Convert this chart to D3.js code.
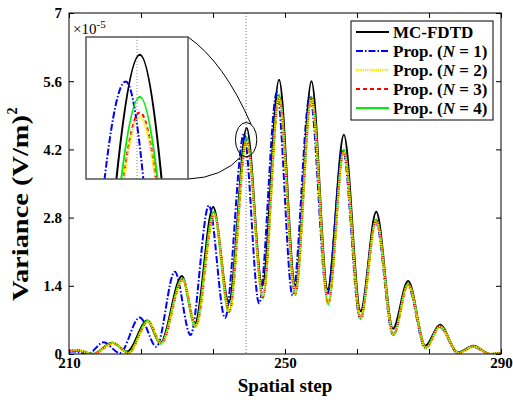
<!DOCTYPE html>
<html>
<head>
<meta charset="utf-8">
<script src="https://cdn.jsdelivr.net/npm/d3@7"></script>
<style>
  html, body { margin: 0; padding: 0; background: #fff; }
  svg { display: block; }
  text { font-family: "Liberation Serif", "Times New Roman", Times, "DejaVu Serif", serif !important; font-weight: bold; }
</style>
</head>
<body>
<svg id="chart" width="513" height="400"></svg>
<script>
// ---- data (local maxima / minima of each curve) ----
const xDomain = [210, 290];
const yDomain = [0, 7];
const xTicks = [210, 223.33, 236.67, 250, 263.33, 276.67, 290];
const xTickLabels = ["210", "", "", "250", "", "", "290"];
const yTicks = [0, 1.4, 2.8, 4.2, 5.6, 7];
const yTickLabels = ["0", "1.4", "2.8", "4.2", "5.6", "7"];
const markerX = 242.8;
const zoomX = [241.0, 244.6];
const zoomY = [4.08, 4.72];

const mcFdtd = [[210,0.05],[211.5,0.07],[214.4,0.0],[218.0,0.23],[220.8,0.05],[224.5,0.69],[226.9,0.22],
  [230.9,1.60],[233.3,0.62],[236.7,3.02],[239.6,1.06],[242.9,4.64],[245.8,1.40],[248.9,5.63],[251.9,1.40],
  [254.9,5.60],[257.9,1.33],[260.9,4.50],[264.0,0.88],[266.9,2.92],[270.0,0.52],[272.8,1.50],[276.0,0.17],
  [278.7,0.60],[282.0,0.03],[284.9,0.17],[288.0,0.0],[290,0.02]];
const propN1 = [[210,0.05],[211.0,0.05],[213.5,0.0],[216.4,0.24],[219.4,0.02],[223.1,0.75],[226.2,0.15],
  [229.6,1.69],[232.5,0.39],[235.9,3.05],[238.9,0.74],[242.4,4.52],[245.2,1.04],[248.5,5.37],[251.4,1.20],
  [254.6,5.30],[257.8,1.22],[260.7,4.20],[263.9,0.74],[266.8,2.72],[270.0,0.40],[272.7,1.41],[276.0,0.12],
  [278.6,0.56],[282.0,0.02],[284.8,0.15],[288.0,0.0],[290,0.02]];
const propN2 = [[210,0.06],[211.5,0.08],[214.5,0.0],[218.2,0.22],[221.0,0.02],[224.7,0.66],[227.1,0.22],
  [231.1,1.52],[233.5,0.57],[236.9,2.86],[239.7,0.87],[242.9,4.36],[245.9,1.18],[248.9,5.24],[251.9,1.24],
  [254.9,5.22],[258.0,1.05],[260.9,4.14],[264.0,0.74],[266.9,2.72],[270.1,0.40],[272.8,1.41],[276.1,0.12],
  [278.7,0.56],[282.1,0.02],[284.9,0.15],[288.0,0.0],[290,0.02]];
const propN3 = [[210,0.06],[211.5,0.08],[214.5,0.0],[218.2,0.22],[221.0,0.02],[224.7,0.67],[227.1,0.22],
  [231.1,1.53],[233.5,0.57],[236.9,2.88],[239.7,0.87],[242.9,4.38],[245.9,1.17],[248.9,5.27],[251.9,1.23],
  [254.9,5.24],[258.0,1.04],[260.9,4.16],[264.0,0.73],[266.9,2.74],[270.1,0.40],[272.8,1.42],[276.1,0.12],
  [278.7,0.56],[282.1,0.02],[284.9,0.15],[288.0,0.0],[290,0.02]];
const propN4 = [[210,0.06],[211.5,0.08],[214.5,0.0],[218.1,0.23],[221.0,0.02],[224.6,0.68],[227.0,0.21],
  [231.0,1.55],[233.4,0.56],[236.8,2.92],[239.6,0.86],[242.9,4.45],[245.9,1.15],[248.9,5.32],[251.9,1.21],
  [254.9,5.28],[258.0,1.02],[260.9,4.20],[264.0,0.72],[266.9,2.76],[270.1,0.39],[272.8,1.44],[276.1,0.12],
  [278.7,0.57],[282.1,0.02],[284.9,0.16],[288.0,0.0],[290,0.02]];
const legendN = [null, 1, 2, 3, 4];

// ---- styles ----
const series = [
  { data: mcFdtd, color: "#000000", width: 2,   dash: null },
  { data: propN1, color: "#0000ff", width: 2,   dash: "7,2,1.5,2" },
  { data: propN4, color: "#00ee00", width: 2,   dash: null },
  { data: propN3, color: "#ff0000", width: 2,   dash: "4,3" },
  { data: propN2, color: "#f2e600", width: 2.5, dash: "1.2,1" }
];
const legendOrder = [0, 1, 4, 3, 2];

const svg = d3.select("#chart");
const M = { l: 69, r: 501, t: 13, b: 354 };
const x = d3.scaleLinear().domain(xDomain).range([M.l, M.r]);
const y = d3.scaleLinear().domain(yDomain).range([M.b, M.t]);

const defs = svg.append("defs");
defs.append("clipPath").attr("id", "clipMain").append("rect")
  .attr("x", M.l).attr("y", M.t).attr("width", M.r - M.l).attr("height", M.b - M.t);

// dotted marker line
svg.append("line")
  .attr("x1", x(markerX)).attr("x2", x(markerX)).attr("y1", M.t).attr("y2", M.b)
  .attr("stroke", "#777").attr("stroke-width", 1).attr("stroke-dasharray", "1,2");

const line = d3.line().x(d => x(d[0])).y(d => y(d[1])).curve(d3.curveMonotoneX);
const gMain = svg.append("g").attr("clip-path", "url(#clipMain)");
series.forEach(s => {
  gMain.append("path").attr("d", line(s.data))
    .attr("fill", "none").attr("stroke", s.color).attr("stroke-width", s.width)
    .attr("stroke-dasharray", s.dash);
});

// ---- axes ----
const styleAxis = g => {
  g.attr("font-family", null).attr("font-size", null);
  g.select(".domain").remove();
  g.selectAll(".tick line").attr("stroke", "#000");
  g.selectAll("text").attr("fill", "#000").style("font-size", "15px");
};
svg.append("g").attr("transform", `translate(0,${M.b})`)
  .call(d3.axisBottom(x).tickValues(xTicks).tickSizeInner(-5).tickSizeOuter(0).tickPadding(3)
    .tickFormat((d, i) => xTickLabels[i]))
  .call(styleAxis);
svg.append("g").attr("transform", `translate(0,${M.t})`)
  .call(d3.axisTop(x).tickValues(xTicks).tickSizeInner(-5).tickSizeOuter(0).tickFormat(""))
  .call(styleAxis);
svg.append("g").attr("transform", `translate(${M.l},0)`)
  .call(d3.axisLeft(y).tickValues(yTicks).tickSizeInner(-5).tickSizeOuter(0).tickPadding(7)
    .tickFormat((d, i) => yTickLabels[i]))
  .call(styleAxis);
svg.append("g").attr("transform", `translate(${M.r},0)`)
  .call(d3.axisRight(y).tickValues(yTicks).tickSizeInner(-5).tickSizeOuter(0).tickFormat(""))
  .call(styleAxis);
svg.append("rect").attr("x", M.l).attr("y", M.t).attr("width", M.r - M.l).attr("height", M.b - M.t)
  .attr("fill", "none").attr("stroke", "#000").attr("stroke-width", 1);

// axis titles
svg.append("text").attr("x", (M.l + M.r) / 2).attr("y", 392).attr("text-anchor", "middle")
  .style("font-size", "19px").text("Spatial step");
svg.append("text").attr("transform", "translate(28,208) rotate(-90)")
  .attr("text-anchor", "middle").style("font-size", "23px")
  .attr("textLength", 186).attr("lengthAdjust", "spacingAndGlyphs")
  .text("Variance (V/m)");
svg.append("text").attr("transform", "translate(17,111) rotate(-90)")
  .attr("text-anchor", "middle").style("font-size", "14px").text("2");

// exponent label
const ex = svg.append("text").attr("x", 73).attr("y", 34).style("font-size", "15px").style("font-weight", "normal");
ex.append("tspan").text("×10");
ex.append("tspan").attr("dy", -6).style("font-size", "11px").text("-5");

// ---- zoom ellipse + inset ----
const ecx = x((zoomX[0] + zoomX[1]) / 2), ecy = y((zoomY[0] + zoomY[1]) / 2);
const erx = (x(zoomX[1]) - x(zoomX[0])) / 2 * 1.1, ery = (y(zoomY[0]) - y(zoomY[1])) / 2 * 1.1;
svg.append("ellipse").attr("cx", ecx).attr("cy", ecy).attr("rx", erx).attr("ry", ery)
  .attr("fill", "none").attr("stroke", "#000").attr("stroke-width", 1);

const I = { l: 86, r: 188, t: 37, b: 179 };
const pt = a => [ecx + erx * Math.cos(a), ecy + ery * Math.sin(a)];
const pTop = pt(-62 * Math.PI / 180), pBot = pt(112 * Math.PI / 180);
const path1 = d3.path();
path1.moveTo(I.r, I.t); path1.quadraticCurveTo(224, 62, pTop[0], pTop[1]);
const path2 = d3.path();
path2.moveTo(I.r, I.b); path2.quadraticCurveTo(222, 178, pBot[0], pBot[1]);
[path1, path2].forEach(p => svg.append("path").attr("d", p.toString())
  .attr("fill", "none").attr("stroke", "#000").attr("stroke-width", 1));

const xi = d3.scaleLinear().domain(zoomX).range([I.l, I.r]);
const yi = d3.scaleLinear().domain(zoomY).range([I.b, I.t]);
defs.append("clipPath").attr("id", "clipInset").append("rect")
  .attr("x", I.l).attr("y", I.t).attr("width", I.r - I.l).attr("height", I.b - I.t);
svg.append("rect").attr("x", I.l).attr("y", I.t).attr("width", I.r - I.l).attr("height", I.b - I.t)
  .attr("fill", "#fff");
svg.append("line").attr("x1", xi(markerX)).attr("x2", xi(markerX)).attr("y1", I.t).attr("y2", I.b)
  .attr("stroke", "#888").attr("stroke-width", 1).attr("stroke-dasharray", "1,2");
const lineI = d3.line().x(d => xi(d[0])).y(d => yi(d[1])).curve(d3.curveMonotoneX);
const gInset = svg.append("g").attr("clip-path", "url(#clipInset)");
series.forEach(s => {
  gInset.append("path").attr("d", lineI(s.data))
    .attr("fill", "none").attr("stroke", s.color).attr("stroke-width", s.width)
    .attr("stroke-dasharray", s.dash);
});
svg.append("rect").attr("x", I.l).attr("y", I.t).attr("width", I.r - I.l).attr("height", I.b - I.t)
  .attr("fill", "none").attr("stroke", "#555").attr("stroke-width", 1.5);

// ---- legend ----
const L = { x: 351, y: 21, w: 142, h: 99, row: 19 };
const lg = svg.append("g");
lg.append("rect").attr("x", L.x).attr("y", L.y).attr("width", L.w).attr("height", L.h)
  .attr("fill", "#fff").attr("stroke", "#000").attr("stroke-width", 1);
legendOrder.forEach((si, i) => {
  const s = series[si];
  const cy = L.y + 11 + i * L.row;
  lg.append("line").attr("x1", L.x + 5).attr("x2", L.x + 38).attr("y1", cy).attr("y2", cy)
    .attr("stroke", s.color).attr("stroke-width", s.width).attr("stroke-dasharray", s.dash);
  const t = lg.append("text").attr("x", L.x + 42).attr("y", cy + 5.5).style("font-size", "17px");
  const n = legendN[i];
  if (n === null) {
    t.text("MC-FDTD");
  } else {
    t.append("tspan").text("Prop. (");
    t.append("tspan").style("font-style", "italic").text("N");
    t.append("tspan").text(" = " + n + ")");
  }
});
</script>
</body>
</html>
